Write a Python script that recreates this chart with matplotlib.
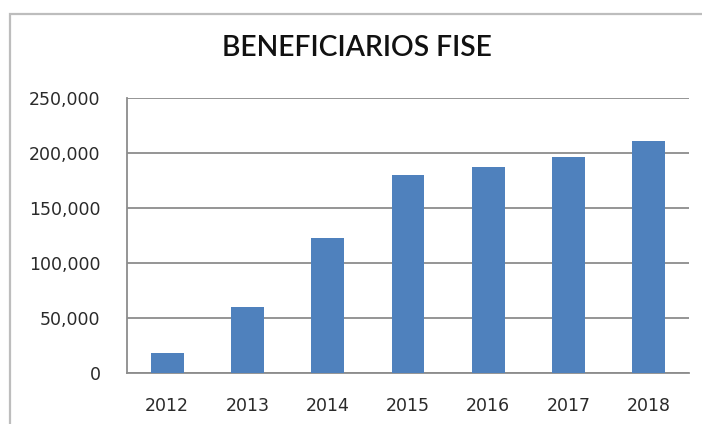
import matplotlib.pyplot as plt
from matplotlib.patches import Rectangle
from matplotlib.ticker import FuncFormatter

years = ['2012', '2013', '2014', '2015', '2016', '2017', '2018']
beneficiarios = [18000, 60000, 122500, 180000, 187500, 196500, 211000]
yticks = [0, 50000, 100000, 150000, 200000, 250000]

fig = plt.figure(figsize=(7.02, 4.24), dpi=100)
W, H = 702, 424

# outer chart frame (left and top edges visible)
fig.patches.append(Rectangle((10 / W, -0.1), 1.0, (H - 14) / H + 0.1,
                             transform=fig.transFigure, fill=False,
                             edgecolor='#bdbdbd', linewidth=1.6))

ax = fig.add_axes([127 / W, (H - 373) / H, (689 - 127) / W, (373 - 98) / H])
x = range(len(years))
ax.bar(x, beneficiarios, width=0.41, color='#4f81bd', zorder=3)

ax.set_xlim(-0.5, len(years) - 0.5)
ax.set_ylim(0, 250000)
ax.set_yticks(yticks)
ax.yaxis.set_major_formatter(FuncFormatter(lambda v, p: f'{int(v):,}'))
ax.set_xticks(list(x))
ax.set_xticklabels(years)
ax.grid(axis='y', color='#8c8c8c', linewidth=1.3, zorder=0)
ax.tick_params(length=0, labelsize=12.5, colors='#2a2a2a')
ax.tick_params(axis='y', pad=19)
ax.tick_params(axis='x', pad=17)
for s in ['top', 'right']:
    ax.spines[s].set_visible(False)
ax.spines['left'].set_color('#8c8c8c')
ax.spines['bottom'].set_color('#8c8c8c')
ax.spines['left'].set_linewidth(1.3)
ax.spines['bottom'].set_linewidth(1.3)

fig.text(357 / W, 1 - 48 / H, 'BENEFICIARIOS FISE', ha='center', va='center',
         fontsize=20.3, family='Lato', weight='semibold', color='#111111')

fig.savefig('out.png', dpi=100)
